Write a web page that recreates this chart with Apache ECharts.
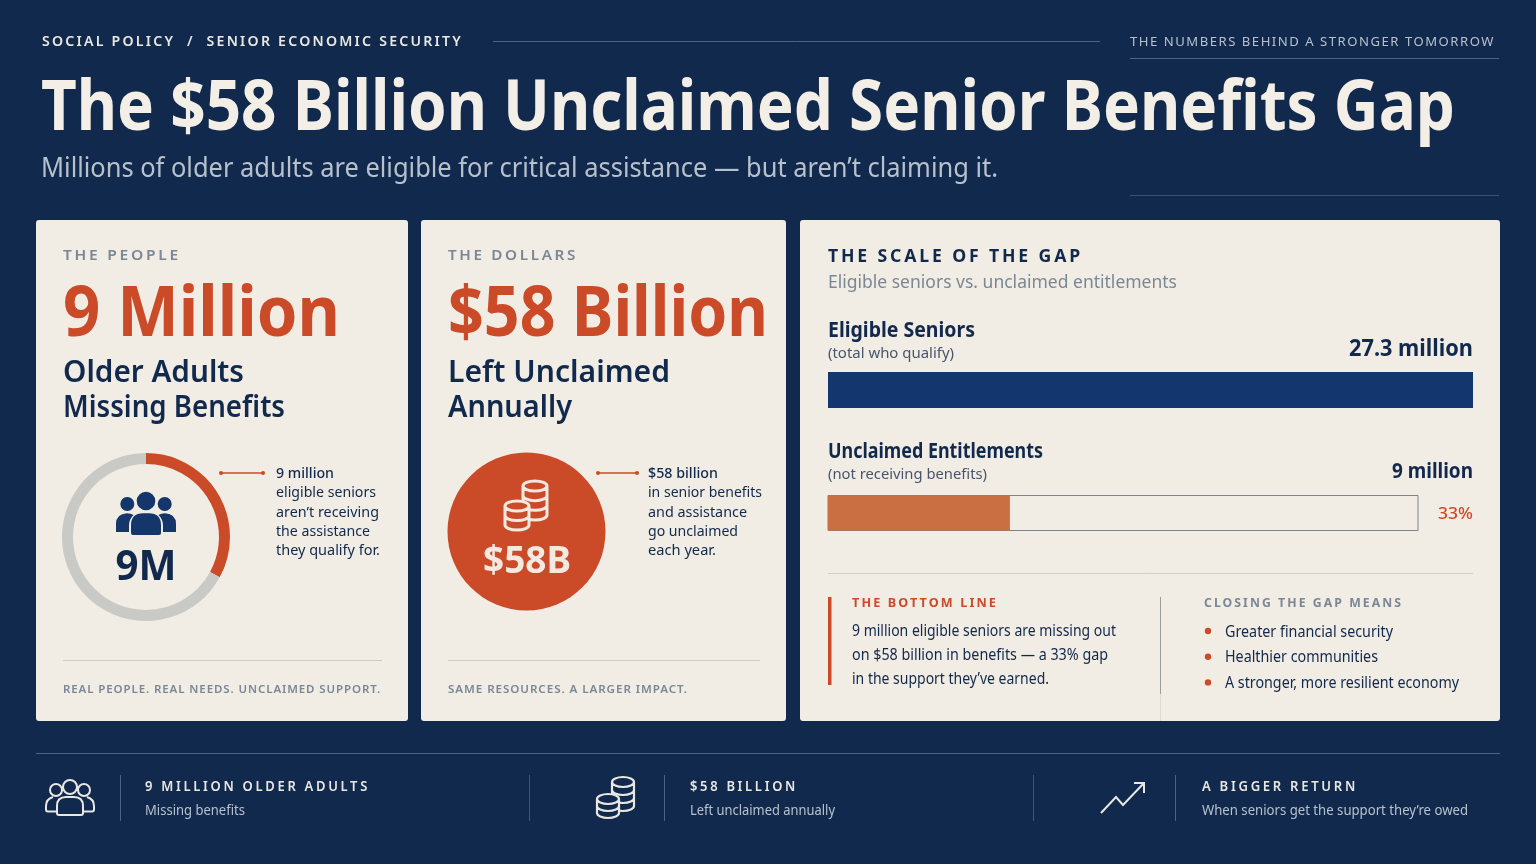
<!DOCTYPE html>
<html lang="en">
<head>
  <meta charset="UTF-8">
  <title>The $58 Billion Unclaimed Senior Benefits Gap</title>
  <script src="https://cdnjs.cloudflare.com/ajax/libs/echarts/6.0.0/echarts.min.js"></script>
  <style>
    html, body, #chart { width: 100%; height: 100%; margin: 0; padding: 0; background: #11294c; }
  </style>
</head>
<body>
  <div id="chart"></div>
  <script>
    // values, in millions of people / billions of dollars
    const gapCategories = ['Eligible Seniors', 'Unclaimed Entitlements']
    const gapValues = [27.3, 9]
    const gapLabels = ['27.3 million', '9 million']
    const gapPercent = '33%'
    const donutNames = ['Not receiving benefits', 'Receiving benefits']
    const donutValues = [9, 18.3]
    const dollarsNames = ['Left unclaimed']
    const dollarsValues = [58]
    const closingItems = ['Greater financial security', 'Healthier communities', 'A stronger, more resilient economy']
    const closingWidths = [168, 153, 234]
    const peopleNote = ['9 million', 'eligible seniors', 'aren\u2019t receiving', 'the assistance', 'they qualify for.']
    const peopleNoteWidths = [58, 100, 103, 94, 104]
    const dollarsNote = ['$58 billion', 'in senior benefits', 'and assistance', 'go unclaimed', 'each year.']
    const dollarsNoteWidths = [70, 114, 99, 90, 68]

    const NAVY = '#11294c', CREAM = '#f1ece4', RED = '#cb4b28', GREY = '#7a8896', PALE = '#b7c1ce', WHITE = '#f3efe7'
    const FONT = '"Noto Sans", sans-serif'

    // canvas text has no letter spacing option in the graphic component
    const spacing = {}
    const fillText = CanvasRenderingContext2D.prototype.fillText
    CanvasRenderingContext2D.prototype.fillText = function (s, x, y, m) {
      this.letterSpacing = spacing[s] || '0px'
      if (m === undefined) fillText.call(this, s, x, y)
      else fillText.call(this, s, x, y, m)
    }
    const measure = document.createElement('canvas').getContext('2d')

    // w = width the text takes in the reference, the glyphs get squeezed to it
    function t(text, x, y, size, weight, fill, w, opts) {
      const o = opts || {}
      if (o.ls) spacing[text] = o.ls + 'px'
      const align = o.align || 'left'
      const el = {
        type: 'text', x: x, y: y + size * 0.07, z: 20, silent: true,
        style: {
          text: text, fill: fill, fontSize: size, fontWeight: weight, fontFamily: FONT,
          align: align, textAlign: align, verticalAlign: 'middle', textVerticalAlign: 'middle'
        }
      }
      if (w) {
        measure.font = weight + ' ' + size + 'px ' + FONT
        measure.letterSpacing = (o.ls || 0) + 'px'
        el.scaleX = w / measure.measureText(text).width
      }
      return el
    }
    function rect(x, y, w, h, fill, r) {
      return { type: 'rect', z: 1, silent: true, shape: { x: x, y: y, width: w, height: h, r: r || 0 }, style: { fill: fill } }
    }
    function line(x1, y1, x2, y2, stroke, w) {
      return { type: 'line', z: 5, silent: true, shape: { x1: x1, y1: y1, x2: x2, y2: y2 }, style: { stroke: stroke, lineWidth: w || 1 } }
    }
    function dot(x, y, r, fill) {
      return { type: 'circle', z: 6, silent: true, shape: { cx: x, cy: y, r: r }, style: { fill: fill } }
    }
    let iconCount = 0
    function icon(d, style) {
      const name = 'pageIcon' + iconCount++
      echarts.graphic.registerShape(name, echarts.graphic.extendPath(d, {}))
      return { type: name, z: 15, silent: true, style: style }
    }
    // coin stack drawn in page coordinates
    function coins(cx, top, bottom, rx, ry, n) {
      const l = cx - rx, r = cx + rx, ty = top + ry, by = bottom - ry
      let d = `M${l} ${ty}A${rx} ${ry} 0 1 0 ${r} ${ty}A${rx} ${ry} 0 1 0 ${l} ${ty}Z`
      d += `M${l} ${ty}L${l} ${by}A${rx} ${ry} 0 0 0 ${r} ${by}L${r} ${ty}`
      for (let i = 1; i < n; i++) {
        const yy = ty + (by - ty) * i / n
        d += `M${l} ${yy}A${rx} ${ry} 0 0 0 ${r} ${yy}`
      }
      return d
    }

    const noteLines = (lines, widths, x) => lines.map((s, i) =>
      t(s, x, 473 + i * 19.2, 14.5, i === 0 ? 500 : 400, NAVY, widths[i]))

    const elements = [
      // header
      t('SOCIAL POLICY  /  SENIOR ECONOMIC SECURITY', 42, 41, 14, 600, '#e9e7e2', 421, { ls: 2.2 }),
      line(493, 41.5, 1100, 41.5, '#4d6384'),
      t('THE NUMBERS BEHIND A STRONGER TOMORROW', 1130, 41, 13, 400, PALE, 365, { ls: 1.5 }),
      line(1130, 58.5, 1499, 58.5, '#4d6384'),
      line(1130, 195.5, 1499, 195.5, '#3b5274'),
      t('The $58 Billion Unclaimed Senior Benefits Gap', 41, 105, 70, 700, WHITE, 1414),
      t('Millions of older adults are eligible for critical assistance \u2014 but aren\u2019t claiming it.', 41, 167, 27, 400, PALE, 957),

      // cards
      rect(36, 220, 372, 501, CREAM, 3),
      rect(421, 220, 365, 501, CREAM, 3),
      rect(800, 220, 700, 501, CREAM, 3),

      // card 1
      t('THE PEOPLE', 63, 255, 15, 600, GREY, 118, { ls: 2.6 }),
      t('9 Million', 63, 311, 70, 700, RED, 277),
      t('Older Adults', 63, 371, 30, 600, NAVY, 181),
      t('Missing Benefits', 63, 406, 30, 600, NAVY, 222),
      line(221, 473, 263, 473, RED, 1.5), dot(221, 473, 2, RED), dot(263, 473, 2, RED),
      ...noteLines(peopleNote, peopleNoteWidths, 276),
      icon('M155.3 501A9.3 9.3 0 1 1 136.7 501A9.3 9.3 0 1 1 155.3 501Z' +
        'M134.3 504A7 7 0 1 1 120.3 504A7 7 0 1 1 134.3 504Z' +
        'M171.7 504A7 7 0 1 1 157.7 504A7 7 0 1 1 171.7 504Z' +
        'M131 533V525Q131 513.5 143 513.3H149Q161 513.5 161 525V533Q161 535 159 535H133Q131 535 131 533Z' +
        'M116 532V524Q116 514 127 513.3Q131 513.5 133.5 515Q129 519 129 526V532Z' +
        'M176 532V524Q176 514 165 513.3Q161 513.5 158.5 515Q163 519 163 526V532Z',
        { fill: '#14366b' }),
      t('9M', 146, 565, 42, 700, NAVY, 61, { align: 'center' }),
      line(63, 660.5, 382, 660.5, '#cfcbc3'),
      t('REAL PEOPLE. REAL NEEDS. UNCLAIMED SUPPORT.', 63, 689, 11.5, 600, GREY, 318, { ls: 0.9 }),

      // card 2
      t('THE DOLLARS', 448, 255, 15, 600, GREY, 130, { ls: 2.6 }),
      t('$58 Billion', 448, 311, 70, 700, RED, 320),
      t('Left Unclaimed', 448, 371, 30, 600, NAVY, 222),
      t('Annually', 448, 406, 30, 600, NAVY, 124),
      line(598, 473, 637, 473, RED, 1.5), dot(598, 473, 2, RED), dot(637, 473, 2, RED),
      ...noteLines(dollarsNote, dollarsNoteWidths, 648),
      icon(coins(535, 481, 520, 12, 5, 3), { fill: RED, stroke: '#f3e9e0', lineWidth: 3 }),
      icon(coins(517, 501, 530, 12, 5, 2), { fill: RED, stroke: '#f3e9e0', lineWidth: 3 }),
      t('$58B', 527, 560, 38, 700, '#f3e9e0', 88, { align: 'center' }),
      line(448, 660.5, 760, 660.5, '#cfcbc3'),
      t('SAME RESOURCES. A LARGER IMPACT.', 448, 689, 11.5, 600, GREY, 240, { ls: 0.9 }),

      // card 3
      t('THE SCALE OF THE GAP', 828, 256, 18, 700, NAVY, 255, { ls: 2.9 }),
      t('Eligible seniors vs. unclaimed entitlements', 828, 282, 18, 400, GREY, 349),
      t(gapCategories[0], 828, 330, 21, 700, NAVY, 147),
      t('(total who qualify)', 828, 353, 15, 400, '#47566c', 126),
      t(gapLabels[0], 1473, 347, 24, 700, NAVY, 124, { align: 'right' }),
      t(gapCategories[1], 828, 451, 21, 700, NAVY, 215),
      t('(not receiving benefits)', 828, 474, 15, 400, '#47566c', 159),
      t(gapLabels[1], 1473, 471, 21, 700, NAVY, 81, { align: 'right' }),
      t(gapPercent, 1473, 513, 16, 500, RED, 35, { align: 'right' }),
      line(828, 573.5, 1473, 573.5, '#d2cec6'),

      rect(828, 597, 3.5, 88, RED),
      t('THE BOTTOM LINE', 852, 603, 12, 700, RED, 146, { ls: 2 }),
      t('9 million eligible seniors are missing out', 852, 630, 15.5, 400, NAVY, 264),
      t('on $58 billion in benefits \u2014 a 33% gap', 852, 654, 15.5, 400, NAVY, 256),
      t('in the support they\u2019ve earned.', 852, 678, 15.5, 400, NAVY, 197),
      line(1160.5, 597, 1160.5, 694, '#9a9c9d'),
      line(1160.5, 694, 1160.5, 721, '#dfdbd3'),
      t('CLOSING THE GAP MEANS', 1204, 603, 12, 700, GREY, 199, { ls: 2 }),
      ...closingItems.map((s, i) => t(s, 1225, 631 + i * 25.7, 15.5, 400, NAVY, closingWidths[i])),
      ...closingItems.map((s, i) => dot(1208, 631 + i * 25.7, 3.2, RED)),

      // footer
      line(36, 753.5, 1500, 753.5, '#4d6384'),
      line(120.5, 775, 120.5, 821, '#4d6384'),
      line(529.5, 775, 529.5, 821, '#3f5677'),
      line(664.5, 775, 664.5, 821, '#4d6384'),
      line(1033.5, 775, 1033.5, 821, '#3f5677'),
      line(1175.5, 775, 1175.5, 821, '#4d6384'),
      icon('M77 787A7 7 0 1 1 63 787A7 7 0 1 1 77 787Z' +
        'M62 790A6 6 0 1 1 50 790A6 6 0 1 1 62 790Z' +
        'M90 790A6 6 0 1 1 78 790A6 6 0 1 1 90 790Z' +
        'M57 813V806Q57 797 66 797H74Q83 797 83 806V813Q83 815 81 815H59Q57 815 57 813Z' +
        'M57 811.5H48Q46 811.5 46 809.5V806Q46 799 53 797' +
        'M83 811.5H92Q94 811.5 94 809.5V806Q94 799 87 797',
        { fill: 'none', stroke: '#e9e7e2', lineWidth: 2 }),
      icon(coins(623, 777, 811, 11, 5, 3), { fill: NAVY, stroke: '#e9e7e2', lineWidth: 2.2 }),
      icon(coins(608, 794, 818, 11, 5, 2), { fill: NAVY, stroke: '#e9e7e2', lineWidth: 2.2 }),
      icon('M1101 813L1116 797L1123 805L1144 783M1134 783H1144V793',
        { fill: 'none', stroke: '#e9e7e2', lineWidth: 2 }),
      t('9 MILLION OLDER ADULTS', 145, 786, 14, 600, '#e9e7e2', 225, { ls: 2.9 }),
      t('Missing benefits', 145, 810, 14, 400, PALE, 100),
      t('$58 BILLION', 690, 786, 14, 600, '#e9e7e2', 108, { ls: 2.9 }),
      t('Left unclaimed annually', 690, 810, 14, 400, PALE, 145),
      t('A BIGGER RETURN', 1202, 786, 14, 600, '#e9e7e2', 156, { ls: 2.9 }),
      t('When seniors get the support they\u2019re owed', 1202, 810, 14, 400, PALE, 266)
    ]

    const chart = echarts.init(document.getElementById('chart'))
    chart.setOption({
      animation: false,
      backgroundColor: NAVY,
      graphic: { elements: elements },
      grid: [
        { left: 828, top: 372, width: 645, height: 36 },
        { left: 828, top: 495.5, width: 590, height: 35 }
      ],
      xAxis: [
        { gridIndex: 0, type: 'value', min: 0, max: 27.3, show: false },
        // the outlined track in the reference runs a bit past the full 27.3 scale
        { gridIndex: 1, type: 'value', min: 0, max: 29.2, show: false }
      ],
      yAxis: [
        { gridIndex: 0, type: 'category', data: [gapCategories[0]], show: false },
        { gridIndex: 1, type: 'category', data: [gapCategories[1]], show: false }
      ],
      series: [
        {
          type: 'bar', xAxisIndex: 0, yAxisIndex: 0, barWidth: 36, silent: true,
          data: [gapValues[0]], itemStyle: { color: '#14366e' }
        },
        {
          type: 'bar', xAxisIndex: 1, yAxisIndex: 1, barWidth: 35, silent: true,
          data: [gapValues[1]], itemStyle: { color: '#c96f42', borderColor: '#c96f42', borderWidth: 1 },
          showBackground: true,
          backgroundStyle: { color: CREAM, borderColor: '#7b868c', borderWidth: 1 }
        },
        {
          type: 'pie', center: [146, 537], radius: [73, 84], startAngle: 90, silent: true,
          label: { show: false }, labelLine: { show: false },
          data: donutNames.map((name, i) => ({
            name: name, value: donutValues[i],
            itemStyle: { color: i === 0 ? RED : '#c9c9c6' }
          }))
        },
        {
          type: 'pie', center: [526.5, 531.5], radius: [0, 79], silent: true,
          label: { show: false }, labelLine: { show: false },
          data: dollarsNames.map((name, i) => ({ name: name, value: dollarsValues[i], itemStyle: { color: RED } }))
        }
      ]
    })
  </script>
</body>
</html>
